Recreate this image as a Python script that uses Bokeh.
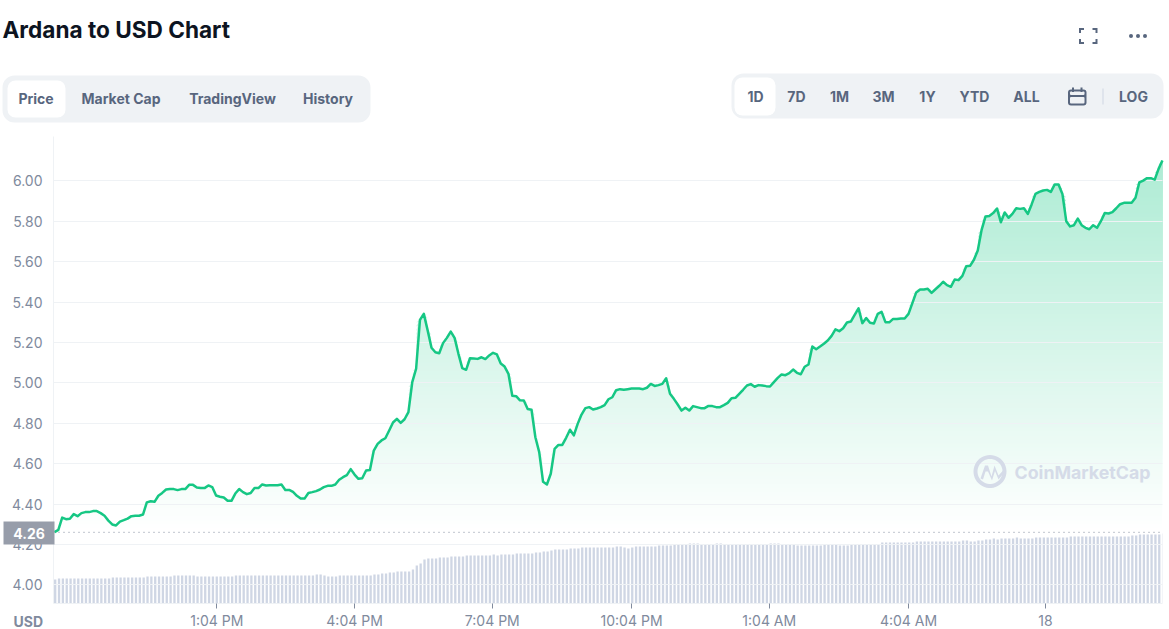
import numpy as np
from bokeh.plotting import figure
from bokeh.models import (Range1d, LinearAxis, FixedTicker, Label, BoxAnnotation,
                          PolyAnnotation, Span)
from bokeh.embed import file_html
from bokeh.resources import INLINE

# ---------- data ----------
title_text = "Ardana to USD Chart"
left_tabs = ["Price", "Market Cap", "TradingView", "History"]
right_tabs = ["1D", "7D", "1M", "3M", "1Y", "YTD", "ALL"]
price_ticks = [4.0, 4.2, 4.4, 4.6, 4.8, 5.0, 5.2, 5.4, 5.6, 5.8, 6.0]
time_ticks = [211, 390, 569, 750, 929, 1110, 1288]       # minutes since first sample
time_labels = ["1:04 PM", "4:04 PM", "7:04 PM", "10:04 PM", "1:04 AM", "4:04 AM", "18"]
last_close = 4.26
step_minutes = 5

price = [
    4.261, 4.272, 4.333, 4.325, 4.327, 4.350, 4.340, 4.355, 4.360, 4.360, 4.365, 4.365,
    4.355, 4.342, 4.318, 4.299, 4.294, 4.313, 4.320, 4.328, 4.340, 4.342, 4.342, 4.348,
    4.408, 4.414, 4.411, 4.441, 4.455, 4.472, 4.475, 4.474, 4.469, 4.474, 4.474, 4.495,
    4.495, 4.482, 4.479, 4.479, 4.492, 4.484, 4.442, 4.436, 4.432, 4.416, 4.416, 4.452,
    4.474, 4.459, 4.449, 4.455, 4.480, 4.479, 4.497, 4.492, 4.493, 4.493, 4.493, 4.497,
    4.470, 4.470, 4.460, 4.441, 4.427, 4.427, 4.455, 4.459, 4.464, 4.472, 4.484, 4.490,
    4.490,
    4.497, 4.520, 4.533, 4.543, 4.573, 4.546, 4.525, 4.528, 4.566, 4.569, 4.665, 4.698,
    4.715, 4.726, 4.764, 4.804, 4.822, 4.802, 4.820, 4.855, 5.004, 5.070, 5.312, 5.342,
    5.260, 5.174, 5.152, 5.147, 5.197, 5.223, 5.254, 5.223, 5.144, 5.073, 5.065, 5.122,
    5.121, 5.119, 5.127, 5.118, 5.136, 5.149, 5.141, 5.096, 5.081, 5.045, 4.936, 4.934,
    4.914, 4.913, 4.871, 4.867, 4.731, 4.657, 4.510, 4.497, 4.550, 4.673, 4.693, 4.693,
    4.728, 4.768, 4.740, 4.797, 4.843, 4.875, 4.880, 4.868, 4.873, 4.880, 4.890, 4.919,
    4.929, 4.964, 4.969, 4.966, 4.969, 4.972, 4.972, 4.972, 4.969, 4.976, 4.995, 4.985,
    4.989, 4.995, 5.023, 4.946, 4.921, 4.893, 4.863, 4.877, 4.863, 4.885, 4.880, 4.875,
    4.875, 4.886, 4.885, 4.880, 4.880, 4.890, 4.901, 4.924, 4.926, 4.946, 4.966, 4.987,
    4.994, 4.981, 4.989, 4.987, 4.984, 4.982, 5.004, 5.025, 5.042, 5.038, 5.048, 5.066,
    5.050, 5.043, 5.080, 5.091, 5.180, 5.167, 5.180, 5.194, 5.210, 5.233, 5.265, 5.256,
    5.271, 5.299, 5.304, 5.337, 5.369, 5.296, 5.321, 5.298, 5.294, 5.342, 5.352,
    5.301, 5.300, 5.317, 5.316, 5.319, 5.319, 5.342, 5.395, 5.448, 5.463, 5.463, 5.466,
    5.446, 5.464, 5.481, 5.501, 5.484, 5.476, 5.512, 5.509, 5.530, 5.578, 5.580, 5.610,
    5.656, 5.758, 5.824, 5.827, 5.841, 5.864, 5.796, 5.844, 5.818, 5.837, 5.865, 5.862,
    5.865, 5.837, 5.884, 5.936, 5.946, 5.953, 5.956, 5.946, 5.983, 5.983, 5.936, 5.801,
    5.775, 5.781, 5.814, 5.781, 5.768, 5.761, 5.781, 5.768, 5.801, 5.841, 5.839, 5.846,
    5.865, 5.885, 5.892, 5.892, 5.892, 5.917, 5.993, 6.002, 6.014, 6.014, 6.007, 6.060,
    6.102,
]

volume = [
    24, 25, 25, 25, 25, 25, 25, 25, 25, 25, 25, 25, 25, 25, 25, 26, 26, 26, 26, 26, 26, 26, 26, 26,
    27, 27, 27, 27, 27, 27, 27, 28, 28, 28, 28, 28, 28, 27, 27, 27, 27, 27, 27, 27, 27, 27, 27,
    28, 28, 28, 28, 28, 28, 28, 28, 28, 28, 28, 28, 28, 28, 28, 28, 28, 28, 28, 28, 28,
    29, 29, 28, 27, 27, 27, 28, 28, 28, 28, 28, 28, 28, 28, 28, 29, 29, 30, 30, 31, 31,
    32, 32, 32, 32, 34, 38, 40, 44, 45, 45, 45, 46, 46, 46, 47, 47, 47, 47,
    48, 48, 48, 48, 48, 48, 48, 49, 48, 49, 49, 49, 49, 50, 50, 50, 50, 50, 51, 51, 52, 52, 53,
    54, 54, 54, 54, 55, 55, 55, 56, 56, 56, 56, 56, 56, 56, 56,
    56, 57, 57, 56, 55, 56, 57, 57, 57, 57, 57, 57, 58, 58, 58, 58, 59, 59, 59, 59, 60, 60, 60,
    59, 59, 59, 59, 60, 60, 59, 59, 59, 59, 59, 59, 59, 59, 59, 59, 59, 59, 60, 60, 60,
    59, 59, 59, 59, 58, 58, 58, 58, 58, 58, 58, 59, 59, 59, 59, 58, 58, 58,
    59, 59, 59, 59, 59, 59, 59, 59, 61, 61, 61, 61, 61, 61, 61, 61, 61,
    62, 62, 62, 62, 62, 62, 62, 62, 62, 62, 62, 62, 63, 63, 62, 62, 63, 63, 64, 64, 65, 64,
    65, 65, 65, 65, 66, 65, 65, 65, 65, 66, 66, 66, 66, 66, 66, 66, 66, 66,
    67, 67, 67, 67, 67, 67, 67, 67, 67, 67, 67, 67, 67, 67, 67, 67, 68, 68,
    69, 69, 69, 69, 69, 69, 70,
]

# ---------- colours ----------
GREEN = (22, 199, 132)
GRID = "#eff2f5"
AXIS_TEXT = "#808a9d"
TAB_TEXT = "#58667e"
BAR = "#cfd6e4"
PANEL = "#eff2f5"
MARK = "#d5dbe8"
FONT = "Inter"

W, H = 1169, 629
CHART_H = H + 2
minutes = np.arange(len(price)) * step_minutes
prices = np.array(price)

# ---------- the chart ----------
p = figure(width=W, height=CHART_H, output_backend="svg", toolbar_location=None,
           x_range=Range1d(-1.3, 1440.1), y_range=Range1d(3.9074, 6.2204),
           x_axis_location=None, y_axis_location=None,
           min_border_left=53, min_border_right=7, min_border_top=136, min_border_bottom=28,
           outline_line_color=None, background_fill_color="white",
           margin=(0, 0, 0, 0))

# volume scale: own range, filling the frame
p.extra_y_ranges = {"volume": Range1d(0, 467)}

# gradient fill: opaque layers painted from the base upwards
levels = np.arange(last_close, 6.12, 0.02)
for t in levels:
    a = (t - last_close) / (6.10 - last_close) * 0.35
    col = tuple(int(round(255 - (255 - c) * a)) for c in GREEN)
    p.varea(minutes, y1=np.full(len(prices), t), y2=np.maximum(prices, t), fill_color=col)

p.vbar(x=(minutes + 0.9), top=volume, bottom=0, width=3.0, y_range_name="volume",
       fill_color=BAR, line_color=None)

yax = LinearAxis(ticker=FixedTicker(ticks=price_ticks))
yax.major_label_overrides = {t: f"{t:.2f}" for t in price_ticks}
yax.axis_line_color = GRID
yax.major_tick_line_color = None
yax.major_tick_out = 0
yax.major_tick_in = 0
yax.minor_tick_line_color = None
yax.major_label_standoff = 11
yax.major_label_text_font = FONT
yax.major_label_text_font_size = "14px"
yax.major_label_text_color = AXIS_TEXT
p.add_layout(yax, "left")

xax = LinearAxis(ticker=FixedTicker(ticks=time_ticks))
xax.major_label_overrides = dict(zip(time_ticks, time_labels))
xax.axis_line_color = GRID
xax.major_tick_line_color = AXIS_TEXT
xax.major_tick_in = 0
xax.major_tick_out = 5
xax.minor_tick_line_color = None
xax.major_label_standoff = 3
xax.major_label_text_font = FONT
xax.major_label_text_font_size = "14px"
xax.major_label_text_color = AXIS_TEXT
p.add_layout(xax, "below")

p.xgrid.visible = False
p.ygrid.ticker = FixedTicker(ticks=price_ticks)
p.ygrid.grid_line_color = GRID
p.ygrid.level = "guide"

line = p.line(minutes, prices, line_color=GREEN, line_width=2.5, line_join="round")
line.level = "overlay"

p.add_layout(Span(location=last_close, dimension="width", line_color=AXIS_TEXT,
                  line_dash="1 4", line_width=1, level="overlay"))

# ---------- page furniture: a transparent sheet over the chart, its frame the whole page ----------
c = figure(width=W, height=H, output_backend="svg", toolbar_location=None,
           x_axis_location=None, y_axis_location=None,
           x_range=Range1d(0, W), y_range=Range1d(0, H),
           min_border=0, outline_line_color=None,
           background_fill_alpha=0, border_fill_alpha=0,
           margin=(-CHART_H, 0, 0, 0))
c.xgrid.visible = False
c.ygrid.visible = False


def sy(y):
    return H - y


def text(x, y, s, size="14px", color=TAB_TEXT, style="bold", align="left"):
    c.add_layout(Label(x=x, y=sy(y), x_units="screen", y_units="screen", text=s,
                       text_font=FONT, text_font_size=size, text_color=color,
                       text_font_style=style, text_align=align, text_baseline="middle"))


def box(l, t, r, b, fill=None, radius=0):
    c.add_layout(BoxAnnotation(left=l, right=r, top=sy(t), bottom=sy(b),
                               left_units="screen", right_units="screen",
                               top_units="screen", bottom_units="screen",
                               fill_color=fill, fill_alpha=1,
                               line_color=None, border_radius=radius))


def poly(xs, ys, fill):
    c.add_layout(PolyAnnotation(xs=list(xs), ys=[sy(v) for v in ys], xs_units="screen",
                                ys_units="screen", fill_color=fill, fill_alpha=1,
                                line_color=None))


text(2, 29, title_text, size="22.6px", color="#0d1421")

box(2, 75, 370, 122, fill=PANEL, radius=12)
box(7, 80, 65, 117, fill="white", radius=8)
for cx, s in zip([35.5, 120.5, 232, 327.5], left_tabs):
    text(cx, 97.5, s, align="center")

box(731, 73, 1163, 118, fill=PANEL, radius=12)
box(734, 77, 775, 115, fill="white", radius=8)
for cx, s in zip([755, 796, 839, 883, 927, 974, 1026], right_tabs):
    text(cx, 96, s, align="center")
text(1133, 96, "LOG", align="center")

# calendar icon and divider
box(1067.5, 89, 1086, 105, fill=TAB_TEXT, radius=3)
box(1069.5, 96.5, 1084, 103, fill=PANEL, radius=1)
box(1069.5, 91, 1084, 94.5, fill=PANEL, radius=1)
box(1071.5, 87, 1073.5, 91.5, fill=TAB_TEXT)
box(1080, 87, 1082, 91.5, fill=TAB_TEXT)
box(1102, 88, 1103, 104, fill="#cfd6e4")

# fullscreen icon
for (x0, dx), (y0, dy) in [((1078.5, 1), (27.5, 1)), ((1097, -1), (27.5, 1)),
                           ((1078.5, 1), (43.5, -1)), ((1097, -1), (43.5, -1))]:
    poly([x0, x0 + 5 * dx, x0 + 5 * dx, x0 + 2 * dx, x0 + 2 * dx, x0],
         [y0, y0, y0 + 2 * dy, y0 + 2 * dy, y0 + 5 * dy, y0 + 5 * dy], TAB_TEXT)

# dots
for cx in (1130.5, 1137.5, 1144.5):
    box(cx - 2, 33.5, cx + 2, 37.5, fill=TAB_TEXT, radius=2)

# last price badge and unit
box(3, 521, 54, 544, fill="#979daa")
text(28.5, 532.5, f"{last_close:.2f}", size="14px", color="white", style="bold", align="center")
text(42.5, 620.5, "USD", size="14px", color=AXIS_TEXT, style="bold", align="right")

# watermark
ang = np.radians(np.arange(-30, 335, 8))
ring_x = np.r_[989.5 + 16.5 * np.cos(ang), (989.5 + 12.5 * np.cos(ang))[::-1]]
ring_y = np.r_[471 - 16.5 * np.sin(ang), (471 - 12.5 * np.sin(ang))[::-1]]
poly(ring_x, ring_y, MARK)
wave_x = [980, 984.5, 987.5, 991, 994, 998, 1003.5, 1003.5, 998, 994.5, 991.5, 987.5, 985, 982.5]
wave_y = [478, 465, 465, 476, 465, 475, 469, 472.5, 479, 470.5, 480, 471, 471, 479]
poly(wave_x, wave_y, MARK)
text(1014, 472, "CoinMarketCap", size="17.8px", color=MARK, style="bold")

open("out.html", "w").write(file_html([p, c], INLINE))
